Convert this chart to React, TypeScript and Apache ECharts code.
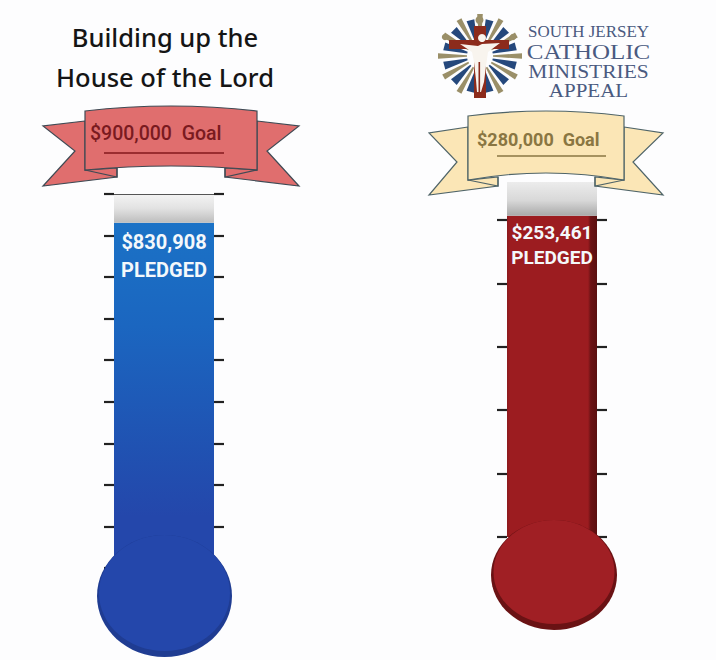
import React, { useEffect, useRef } from "react";
import * as echarts from "echarts";

const titleLines = ["Building up the", "House of the Lord"];
const logoLines = ["SOUTH JERSEY", "CATHOLIC", "MINISTRIES", "APPEAL"];
const parishGoal = 900000;
const parishPledged = [830908];
const parishTicks = [0, 100000, 200000, 300000, 400000, 500000, 600000, 700000, 800000, 900000];
const appealGoal = 280000;
const appealPledged = [253461];
const appealTicks = [0, 50000, 100000, 150000, 200000, 250000];
const pledgedWord = "PLEDGED";
const goalWord = "Goal";

const money = (v: number) => "$" + v.toLocaleString("en-US");
const G = echarts.graphic.LinearGradient;

function ribbonPaths(p: any) {
  return {
    panel: `M${p.l} ${p.t} Q${p.c} ${p.peak} ${p.r} ${p.t} L${p.r} ${p.b} Q${p.c} ${p.bc} ${p.l} ${p.b} Z`,
    leftTail: `M${p.l} ${p.tailTop} L${p.tipL} ${p.tipTop} L${p.notchL} ${p.notchY} L${p.tipL} ${p.tipBot} L${p.foldL} ${p.foldBot} L${p.foldL} ${p.foldTop} L${p.l} ${p.b} Z`,
    rightTail: `M${p.r} ${p.tailTop} L${p.tipR} ${p.tipTop} L${p.notchR} ${p.notchY} L${p.tipR} ${p.tipBot} L${p.foldR} ${p.foldBot} L${p.foldR} ${p.foldTop} L${p.r} ${p.b} Z`,
    foldL: `M${p.l} ${p.b} L${p.foldL} ${p.foldBot} L${p.foldL} ${p.foldTop}`,
    foldR: `M${p.r} ${p.b} L${p.foldR} ${p.foldBot} L${p.foldR} ${p.foldTop}`,
  };
}

const redRibbon = ribbonPaths({ l: 85, r: 257, c: 171, t: 111, peak: 101, b: 170, bc: 162, tailTop: 121, tipL: 43, tipR: 299, tipTop: 126, notchL: 75, notchR: 267, notchY: 151, tipBot: 186, foldL: 117, foldR: 225, foldBot: 177, foldTop: 168 });
const creamRibbon = ribbonPaths({ l: 468, r: 624, c: 546, t: 116, peak: 106, b: 180, bc: 166, tailTop: 127, tipL: 429, tipR: 663, tipTop: 133, notchL: 457, notchR: 633, notchY: 162, tipBot: 195, foldL: 498, foldR: 595, foldBot: 186, foldTop: 177 });

let registered = false;
function registerShapes() {
  if (registered) return;
  registered = true;
  const add = (prefix: string, r: any) => {
    Object.keys(r).forEach((k) => {
      echarts.graphic.registerShape(prefix + k, echarts.graphic.extendPath(r[k], {}));
    });
  };
  add("red_", redRibbon);
  add("cream_", creamRibbon);
}

function ribbon(prefix: string, fill: string, stroke: string) {
  const st = { fill, stroke, lineWidth: 1.2 };
  return ["leftTail", "rightTail", "panel"].map((k) => ({ type: prefix + k, x: 0, y: 0, z: 10, style: st }))
    .concat(["foldL", "foldR"].map((k) => ({ type: prefix + k, x: 0, y: 0, z: 10, style: { fill: "none", stroke, lineWidth: 1.2 } })) as any);
}

function logo() {
  const cx = 480, cy = 56;
  const shapes: any[] = [];
  for (let i = 0; i < 24; i++) {
    const a = (i * Math.PI * 2) / 24;
    const tan = i % 2 === 0;
    const r0 = 13, r1 = tan ? 42 : 37;
    const w0 = 0.8, w1 = tan ? 2.8 : 4;
    const ca = Math.cos(a), sa = Math.sin(a);
    shapes.push({
      type: "polygon", z: 10,
      shape: {
        points: [
          [cx + r0 * ca - w0 * sa, cy + r0 * sa + w0 * ca],
          [cx + r1 * ca - w1 * sa, cy + r1 * sa + w1 * ca],
          [cx + r1 * ca + w1 * sa, cy + r1 * sa - w1 * ca],
          [cx + r0 * ca + w0 * sa, cy + r0 * sa - w0 * ca],
        ],
      },
      style: { fill: tan ? "#9a8f68" : "#25487c" },
    });
  }
  return [
    ...shapes,
    { type: "polygon", z: 10, shape: { points: [[474, 26], [486, 26], [486, 98], [474, 98]] }, style: { fill: "#8c2b1c" } },
    { type: "rect", z: 10, shape: { x: 449, y: 40, width: 60, height: 9 }, style: { fill: "#8c2b1c" } },
    { type: "polygon", z: 10, shape: { points: [[460, 44], [478, 46], [482, 44], [500, 43], [488, 52], [486, 66], [484, 82], [481, 92], [477, 92], [476, 80], [474, 62], [472, 52]] }, style: { fill: "#f8f4ee" } },
    { type: "circle", z: 10, shape: { cx: 482, cy: 38, r: 4 }, style: { fill: "#f8f4ee" } },
    { type: "rect", z: 10, shape: { x: 478.5, y: 62, width: 1.6, height: 30 }, style: { fill: "#8c2b1c" } },
    { type: "circle", z: 10, shape: { cx: 479.5, cy: 20, r: 4 }, style: { fill: "#9a8f68" } },
    { type: "circle", z: 10, shape: { cx: 445, cy: 37, r: 3.2 }, style: { fill: "#9a8f68" } },
    { type: "circle", z: 10, shape: { cx: 513, cy: 37, r: 3.2 }, style: { fill: "#9a8f68" } },
  ];
}

export default function App() {
  const ref = useRef<HTMLDivElement>(null);
  useEffect(() => {
    document.body.style.margin = "0";
    registerShapes();
    const chart = echarts.init(ref.current!, null, { renderer: "svg" });
    const tick = (customValues: number[]) => ({
      length: 10,
      lineStyle: { color: "#222", width: 2.2 },
      customValues,
    });
    const yAxis = (gridIndex: number, position: string, max: number, ticks: number[], interval: number) => ({
      type: "value", gridIndex, position, min: 0, max, interval,
      axisLine: { show: false }, axisLabel: { show: false }, splitLine: { show: false },
      axisTick: { show: true, ...tick(ticks) },
    });
    const label = (size: number, lh: number, dist: number) => ({
      show: true, position: "insideTop", distance: dist, color: "#f4f8fb",
      fontFamily: "Roboto", fontWeight: 700, fontSize: size, lineHeight: lh,
      formatter: (p: any) => `${money(p.value)}\n${pledgedWord}`,
    });
    chart.setOption({
      animation: false,
      backgroundColor: "#fdfdfe",
      grid: [
        { left: 114, width: 100, top: 194, height: 374 },
        { left: 507, width: 90, top: 182, height: 355 },
      ],
      xAxis: [
        { type: "category", gridIndex: 0, data: ["parish"], show: false },
        { type: "category", gridIndex: 1, data: ["appeal"], show: false },
      ],
      yAxis: [
        yAxis(0, "left", parishGoal, parishTicks, 100000),
        yAxis(0, "right", parishGoal, parishTicks, 100000),
        yAxis(1, "left", appealGoal, appealTicks, 50000),
        yAxis(1, "right", appealGoal, appealTicks, 50000),
      ],
      series: [
        {
          type: "bar", stack: "p", xAxisIndex: 0, yAxisIndex: 0, barWidth: "100%", data: parishPledged,
          itemStyle: { color: new G(0, 0, 0, 1, [{ offset: 0, color: "#1b72c6" }, { offset: 0.3, color: "#1b66c0" }, { offset: 0.65, color: "#2052b2" }, { offset: 0.85, color: "#2447ab" }, { offset: 1, color: "#2447ab" }]) },
          label: label(20, 28, 5),
        },
        {
          type: "bar", stack: "p", xAxisIndex: 0, yAxisIndex: 0, barWidth: "100%", data: [parishGoal - parishPledged[0]],
          itemStyle: { color: new G(0, 0, 0, 1, [{ offset: 0, color: "#f4f4f4" }, { offset: 0.5, color: "#e2e2e2" }, { offset: 1, color: "#bdbdbd" }]) },
          markLine: { silent: true, symbol: "none", label: { show: false }, data: [{ yAxis: parishGoal }], lineStyle: { color: "#555", type: "solid", width: 1 } },
        },
        {
          type: "bar", stack: "a", xAxisIndex: 1, yAxisIndex: 2, barWidth: "100%", data: appealPledged,
          itemStyle: { color: new G(0, 0, 1, 0, [{ offset: 0, color: "#8a1a1c" }, { offset: 0.03, color: "#9c1c20" }, { offset: 0.9, color: "#9c1c20" }, { offset: 0.93, color: "#6a1214" }, { offset: 1, color: "#5a0f10" }]) },
          label: label(19, 25, 4),
        },
        {
          type: "bar", stack: "a", xAxisIndex: 1, yAxisIndex: 2, barWidth: "100%", data: [appealGoal - appealPledged[0]],
          itemStyle: { color: new G(0, 0, 0, 1, [{ offset: 0, color: "#ececec" }, { offset: 0.55, color: "#d8d8d8" }, { offset: 1, color: "#a9a9a9" }]) },
        },
      ],
      graphic: [
        ...titleLines.map((t, i) => ({
          type: "text", z: 10,
          style: { text: t, x: 165, y: 37 + i * 40, align: "center", verticalAlign: "middle", fill: "#151515", font: "500 25.5px 'Noto Sans'" },
        })),
        ...logo(),
        ...logoLines.map((t, i) => ({
          type: "text", z: 10,
          x: 588.5,
          y: [32, 51.5, 72, 91][i],
          scaleX: [1.06, 1.136, 1.16, 1.167][i],
          style: {
            text: t, x: 0, y: 0, align: "center", verticalAlign: "middle", fill: "#4a5a80",
            font: `${[16, 22, 18.5, 18][i]}px 'Liberation Serif'`,
          },
        })),
        ...ribbon("red_", "#e06e6e", "#3f4a54"),
        { type: "text", z: 11, style: { text: `${money(parishGoal)}  ${goalWord}`, x: 90, y: 133, verticalAlign: "middle", fill: "#7a1a20", font: "500 19.5px Roboto" } },
        { type: "line", z: 11, shape: { x1: 104, y1: 153, x2: 224, y2: 153 }, style: { stroke: "#85181c", lineWidth: 1.5 } },
        ...ribbon("cream_", "#fbe6b6", "#4f6468"),
        { type: "text", z: 11, style: { text: `${money(appealGoal)}  ${goalWord}`, x: 477, y: 139, verticalAlign: "middle", fill: "#8a7642", font: "700 18px Roboto" } },
        { type: "line", z: 11, shape: { x1: 497, y1: 156, x2: 606, y2: 156 }, style: { stroke: "#8a7642", lineWidth: 1.5 } },
        { type: "ellipse", z: 12, shape: { cx: 164.5, cy: 596, rx: 67.5, ry: 61 }, style: { fill: "#1f3c92" } },
        { type: "ellipse", z: 12, shape: { cx: 164.5, cy: 593, rx: 65.5, ry: 58 }, style: { fill: "#2447ab" } },
        { type: "ellipse", z: 12, shape: { cx: 554, cy: 575, rx: 63, ry: 55 }, style: { fill: "#6a1214" } },
        { type: "ellipse", z: 12, shape: { cx: 554, cy: 572, rx: 60.5, ry: 52 }, style: { fill: "#a01f24" } },
      ],
    });
    return () => chart.dispose();
  }, []);
  return <div ref={ref} style={{ width: 716, height: 660 }} />;
}
